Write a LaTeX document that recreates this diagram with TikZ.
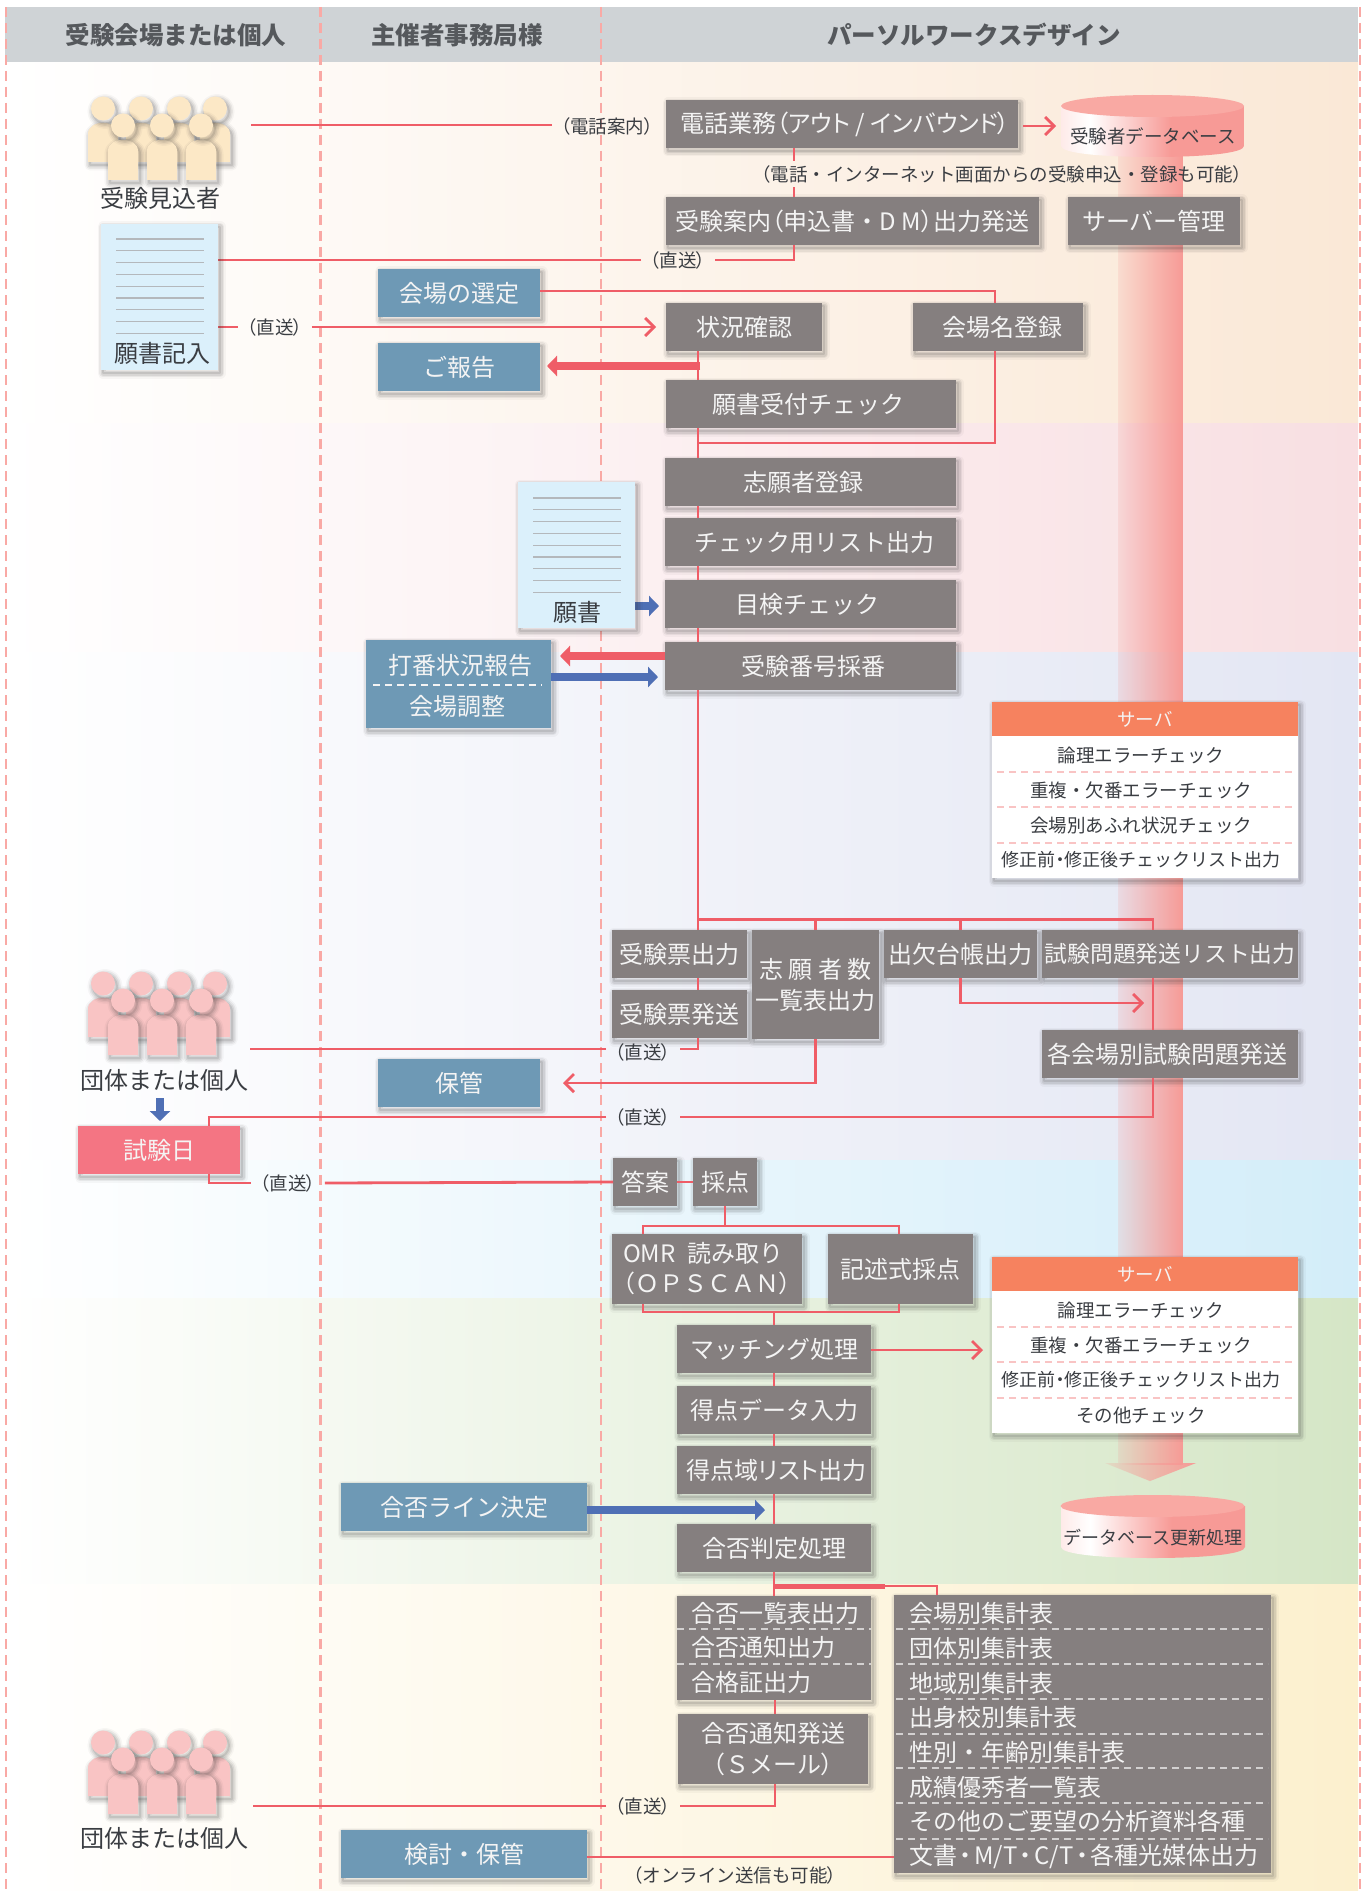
\documentclass[tikz,border=0pt]{standalone}
\usepackage{fontspec}
\setmainfont{Noto Sans CJK JP}
\newfontfamily\pfont[RawFeature={+palt}]{Noto Sans CJK JP}
\newcommand{\lpr}{{\pfont （}}
\newcommand{\rpr}{{\pfont ）}}
\usetikzlibrary{arrows.meta,fadings,calc}
\definecolor{hdr}{HTML}{CFD3D6}
\definecolor{hdrtx}{HTML}{55585C}
\definecolor{bandA}{HTML}{FAE8D6}
\definecolor{bandB}{HTML}{F8DFE2}
\definecolor{bandC}{HTML}{E3E6F3}
\definecolor{bandD}{HTML}{D3EDF9}
\definecolor{bandE}{HTML}{D5E6C6}
\definecolor{bandF}{HTML}{FCF0CE}
\definecolor{lane}{HTML}{F9A9A5}
\definecolor{wirec}{HTML}{EF5D67}
\definecolor{bluearr}{HTML}{4F6FB5}
\definecolor{gray}{HTML}{857F7F}
\definecolor{bluebox}{HTML}{6E99B5}
\definecolor{redbox}{HTML}{F47583}
\definecolor{srvhd}{HTML}{F6825F}
\definecolor{boxtx}{HTML}{F4F4F4}
\definecolor{ink}{HTML}{3A3D42}
\definecolor{paper}{HTML}{DBF0FB}
\definecolor{ruleg}{HTML}{B4B8BC}
\definecolor{pill}{HTML}{F79A96}
\definecolor{dbA}{HTML}{F9A9A3}
\definecolor{dbB}{HTML}{F79A96}
\definecolor{peopleY}{HTML}{FCE8C6}
\definecolor{peopleR}{HTML}{F9C4C4}
\definecolor{shadowc}{HTML}{333333}
\pgfdeclarehorizontalshading{dbbody}{100bp}{color(0bp)=(dbA); color(33bp)=(white); color(55bp)=(dbB); color(100bp)=(dbB)}
\tikzset{
  box/.style n args={4}{at={({(#1+#3)/2},{(#2+#4)/2})},minimum width={(#3-#1)*1pt},minimum height={(#4-#2)*1pt}},
  softshadow/.style={
    preaction={draw=shadowc,draw opacity=.04,line width=11pt,line join=round,transform canvas={shift={(2pt,-3pt)}}},
    preaction={draw=shadowc,draw opacity=.07,line width=8pt,line join=round,transform canvas={shift={(2pt,-3pt)}}},
    preaction={draw=shadowc,draw opacity=.09,line width=5pt,line join=round,transform canvas={shift={(2pt,-3pt)}}},
    preaction={draw=shadowc,draw opacity=.12,line width=2pt,line join=round,transform canvas={shift={(2pt,-3pt)}}}},
  proc/.style={fill=gray,text=boxtx,inner sep=0pt,outer sep=0pt,softshadow,font=\fontsize{24}{31}\selectfont,align=center},
  blue/.style={fill=bluebox,text=boxtx,inner sep=0pt,outer sep=0pt,softshadow,font=\fontsize{24}{29}\selectfont,align=center},
  sheet/.style={fill=paper,inner sep=0pt,outer sep=0pt,softshadow},
  rowtx/.style={text=boxtx,inner sep=0pt,anchor=west,font=\fontsize{24}{29}\selectfont},
  ink24/.style={text=ink,inner sep=0pt,font=\fontsize{24}{29}\selectfont},
  srvtx/.style={text=ink,inner sep=0pt,font=\fontsize{18.5}{22}\selectfont},
  note/.style={text=ink,inner xsep=9pt,inner ysep=0pt,minimum height=26pt,font=\fontsize{18.5}{22}\selectfont},
  headtx/.style={text=hdrtx,inner sep=0pt,font=\fontsize{24.5}{29}\selectfont\bfseries},
  wire/.style={draw=wirec,line width=2.8pt},
  openarrow/.style={wire,-{Straight Barb[length=9pt,width=18pt,line width=2.8pt]}},
  redthick/.style={draw=wirec,line width=8pt,-{Triangle[length=10pt,width=20pt]}},
  bluethick/.style={draw=bluearr,line width=8pt,-{Triangle[length=10pt,width=20pt]}},
  laneline/.style={draw=lane,line width=2.4pt,dash pattern=on 10pt off 6pt},
  divider/.style={draw=#1,line width=2pt,dash pattern=on 7pt off 5pt},
  textrule/.style={draw=ruleg,line width=1.3pt},
  pics/crowd/.style={code={
    \foreach \cx in {15,53,91,127}{
      \fill[#1,softshadow] ({\cx-15},65) -- ({\cx-15},37) .. controls ({\cx-15},22) and ({\cx+15},22) .. ({\cx+15},37) -- ({\cx+15},65) -- cycle;}
    \foreach \cx in {15,53,91,127}{
      \fill[#1,softshadow] (\cx,11.5) ellipse [x radius=12,y radius=12];}
    \foreach \cx in {35,74,113}{
      \fill[#1,softshadow] ({\cx-15},83) -- ({\cx-15},54) .. controls ({\cx-15},39) and ({\cx+15},39) .. ({\cx+15},54) -- ({\cx+15},83) -- cycle;
      \fill[#1,softshadow] (\cx,28.5) ellipse [x radius=12,y radius=12];}
  }}
}
\begin{document}
\begin{tikzpicture}[x=1pt,y=-1pt]
\useasboundingbox (0,0) rectangle (1367,1894);
% background bands
\shade[left color=white,right color=bandA] (5,62) rectangle (1358,423);
\shade[left color=white,right color=bandB] (5,423) rectangle (1358,652);
\shade[left color=white,right color=bandC] (5,652) rectangle (1358,1160);
\shade[left color=white,right color=bandD] (5,1160) rectangle (1358,1298);
\shade[left color=white,right color=bandE] (5,1298) rectangle (1358,1584);
\shade[left color=white,right color=bandF] (5,1584) rectangle (1358,1890);
\fill[hdr] (5,7) rectangle (1358,62);
\foreach \lx in {6,320.5,601,1360}{\draw[laneline] (\lx,7) -- (\lx,1890);}
\node[headtx] (h1) at (176,35) {受験会場または個人};
\node[headtx] (h2) at (457,35) {主催者事務局様};
\node[headtx] (h3) at (974,35) {パーソルワークスデザイン};
% server pillar
\fill[pill,opacity=.18] (1118,150) rectangle (1183,1463);
\fill[pill,path fading=west] (1118,150) rectangle (1183,1463);
\fill[pill,opacity=.18] (1105,1463) -- (1196,1463) -- (1150,1481) -- cycle;
\fill[pill,path fading=west] (1105,1463) -- (1196,1463) -- (1150,1481) -- cycle;
% guide coordinates
\coordinate (sp) at (698,0);
\coordinate (vg) at (794,0);
\coordinate (vr) at (995,0);
\coordinate (vq) at (1153,0);
\coordinate (vx) at (209,0);
\coordinate (docL) at (218,0);
\coordinate (fork) at (698,919.5);
\coordinate (forkR) at (1153,919.5);
\coordinate (bk1) at (643,1226);
\coordinate (bk2) at (899,1226);
\coordinate (bk3) at (643,1312);
\coordinate (bk4) at (899,1312);
\coordinate (c1) at (251,125);
\coordinate (c3) at (250,1049);
\coordinate (c6) at (253,1806);
\coordinate (r3) at (698,1049);
\coordinate (r6) at (775,1806);
\coordinate (r4) at (1153,1117);
\coordinate (joinA) at (698,443);
\coordinate (telA) at (1023,126);
\coordinate (telB) at (1056,126);
\coordinate (rollTip) at (1144,1003);
\coordinate (matchTip) at (983,1350);
\coordinate (repA) at (700,366);
\coordinate (repB) at (547,366);
\coordinate (numA) at (665,656);
\coordinate (numB) at (560,656);
\coordinate (adjA) at (551,677);
\coordinate (adjB) at (658,677);
\coordinate (docA) at (635,606);
\coordinate (docB) at (659,606);
\coordinate (downA) at (160,1098);
\coordinate (downB) at (160,1121);
\coordinate (decA) at (587,1510);
\coordinate (decB) at (765,1510);
\coordinate (revA) at (587,1857);
\coordinate (yj) at (775,1586);
\coordinate (yk) at (885,1586);
\coordinate (yl) at (937,1586);
\coordinate (vex) at (209,1117);
\coordinate (ans) at (209,1183);
\coordinate (dl2) at (218,327);
% text nodes that wires stop at
\node[note] (lbPhone) at (607,126) {\lpr 電話案内\rpr};
\node[note] (lbNet) at (1002,174) {\lpr 電話・インターネット画面からの受験申込・登録も可能\rpr};
\node[note] (lbD1) at (678,260) {\lpr 直送\rpr};
\node[note] (lbD2) at (275,327) {\lpr 直送\rpr};
\node[note] (lbD3) at (643,1052) {\lpr 直送\rpr};
\node[note] (lbD4) at (643,1117) {\lpr 直送\rpr};
\node[note] (lbD5) at (288,1183) {\lpr 直送\rpr};
\node[note] (lbD6) at (643,1806) {\lpr 直送\rpr};
\node[note] (lbOn) at (735,1875) {\lpr オンライン送信も可能\rpr};
% boxes
\node[proc,box={666}{100}{1018}{148}] (tel) {\hspace*{6pt}\pfont 電話業務（アウト / インバウンド）};
\node[proc,box={666}{197}{1039}{245}] (guide) {受験案内\lpr 申込書・D M\rpr 出力発送};
\node[proc,box={1068}{197}{1240}{245}] (srvadm) {サーバー管理};
\node[blue,box={378}{269}{540}{317}] (venue) {会場の選定};
\node[proc,box={666}{303}{822}{351}] (stat) {状況確認};
\node[proc,box={913}{303}{1083}{351}] (reg) {\hspace*{8pt}会場名登録};
\node[blue,box={378}{343}{540}{391}] (report) {ご報告};
\node[proc,box={666}{380}{956}{428}] (check) {\hspace*{-6pt}願書受付チェック};
\node[proc,box={665}{458}{956}{506}] (apply) {\hspace*{-14pt}志願者登録};
\node[proc,box={665}{518}{956}{566}] (list) {\hspace*{8pt}チェック用リスト出力};
\node[proc,box={665}{580}{956}{628}] (eye) {\hspace*{-7pt}目検チェック};
\node[proc,box={665}{642}{956}{690}] (numb) {\hspace*{5pt}受験番号採番};
\node[blue,box={366}{640}{551}{728}] (adjust) {};
\node[text=boxtx,font=\fontsize{24}{29}\selectfont,inner sep=0pt] (adjT1) at (460,665) {打番状況報告};
\node[text=boxtx,font=\fontsize{24}{29}\selectfont,inner sep=0pt] (adjT2) at (457,706) {会場調整};
\draw[divider=boxtx] (373,685) -- (542,685);
\node[proc,box={612}{930}{747}{978}] (ticket) {受験票出力};
\node[proc,box={612}{990}{747}{1038}] (send) {受験票発送};
\node[proc,box={752}{930}{879}{1039}] (appl) {志 願 者 数\\一覧表出力};
\node[proc,box={884}{930}{1037}{978}] (roll) {出欠台帳出力};
\node[proc,font=\fontsize{22.8}{29}\selectfont,box={1042}{930}{1298}{978}] (qlist) {試験問題発送リスト出力};
\node[proc,box={1042}{1030}{1298}{1078}] (sites) {\hspace*{-6pt}各会場別試験問題発送};
\node[blue,box={378}{1059}{540}{1107}] (keep) {保管};
\node[fill=redbox,text=boxtx,inner sep=0pt,outer sep=0pt,softshadow,font=\fontsize{24}{29}\selectfont,box={78}{1126}{240}{1174}] (exam) {試験日};
\node[proc,box={613}{1158}{677}{1206}] (answer) {答案};
\node[proc,box={693}{1158}{757}{1206}] (score) {採点};
\node[proc,align=left,font=\fontsize{24}{30}\selectfont,box={612}{1234}{802}{1304}] (omr) {OMR\hspace{12pt}読み取り\\\lpr ＯＰＳＣＡＮ\rpr};
\node[proc,box={828}{1234}{973}{1304}] (essay) {記述式採点};
\node[proc,box={677}{1325}{871}{1373}] (match) {マッチング処理};
\node[proc,box={677}{1386}{871}{1434}] (input) {得点データ入力};
\node[proc,box={677}{1446}{871}{1494}] (range) {\hspace*{5pt}\pfont 得点域リスト出力};
\node[blue,box={341}{1483}{587}{1531}] (decide) {合否ライン決定};
\node[proc,box={677}{1524}{871}{1572}] (judge) {合否判定処理};
\node[proc,box={677}{1596}{871}{1700}] (res) {};
\node[rowtx] (res1) at (691,1613) {合否一覧表出力};
\node[rowtx] (res2) at (691,1647) {合否通知出力};
\node[rowtx] (res3) at (691,1682) {合格証出力};
\draw[divider=boxtx!70!gray] (677,1629) -- (871,1629);
\draw[divider=boxtx!70!gray] (677,1664) -- (871,1664);
\node[proc,box={678}{1714}{868}{1784}] (send2) {合否通知発送\\\lpr Ｓメール\rpr};
\node[proc,box={894}{1595}{1271}{1873}] (totals) {};
\node[rowtx] (t1) at (909,1613) {会場別集計表};
\node[rowtx] (t2) at (909,1648) {団体別集計表};
\node[rowtx] (t3) at (909,1683) {地域別集計表};
\node[rowtx] (t4) at (909,1717) {出身校別集計表};
\node[rowtx] (t5) at (909,1752) {性別・年齢別集計表};
\node[rowtx] (t6) at (909,1787) {成績優秀者一覧表};
\node[rowtx] (t7) at (909,1821) {その他のご要望の分析資料各種};
\node[rowtx] (t8) at (909,1856) {文書\hspace{2.5pt}{\pfont ・}\hspace{2.5pt}M/T\hspace{2.5pt}{\pfont ・}\hspace{2.5pt}C/T\hspace{2.5pt}{\pfont ・}\hspace{2.5pt}各種光媒体出力};
\foreach \dy in {1629,1664,1699,1734,1768,1803,1839}{\draw[divider=boxtx!70!gray] (896,\dy) -- (1268,\dy);}
\node[blue,box={341}{1830}{587}{1878}] (review) {検討・保管};
% connectors
\draw[wire] (c1) -- (c1 -| lbPhone.west);
\draw[openarrow] (telA) -- (telB);
\draw[wire] (tel.south -| vg) -- (lbNet.north -| vg);
\draw[wire] (lbNet.south -| vg) -- (guide.north -| vg);
\draw[wire] (guide.south -| vg) |- (lbD1.east);
\draw[wire] (lbD1.west) -- (lbD1.west -| docL);
\draw[wire] ([yshift=2pt]venue.east) -| (reg.north -| vr);
\draw[wire] (reg.south -| vr) |- (joinA);
\draw[wire] (dl2) -- (lbD2.west);
\draw[openarrow] (lbD2.east) -- ([xshift=-10pt]stat.west);
\draw[wire] (stat.south -| sp) -- (check.north -| sp);
\draw[wire] (check.south -| sp) -- (apply.north -| sp);
\draw[wire] (apply.south -| sp) -- (list.north -| sp);
\draw[wire] (list.south -| sp) -- (eye.north -| sp);
\draw[wire] (eye.south -| sp) -- (numb.north -| sp);
\draw[wire] (numb.south -| sp) -- (ticket.north -| sp);
\draw[wire] (fork) -- (forkR) -- (qlist.north -| vq);
\draw[wire] (appl.north) -- (appl.north |- fork);
\draw[wire] (roll.north) -- (roll.north |- fork);
\draw[wire] (ticket.south -| sp) -- (send.north -| sp);
\draw[wire] (send.south -| sp) -- (r3) -- (r3 -| lbD3.east);
\draw[wire] (r3 -| lbD3.west) -- (c3);
\draw[openarrow] (appl.south) |- ([xshift=23pt]keep.east);
\draw[wire] (qlist.south -| vq) -- (sites.north -| vq);
\draw[openarrow] (roll.south) |- (rollTip);
\draw[wire] (sites.south -| vq) -- (r4) -- (lbD4.east);
\draw[wire] (lbD4.west) -- (vex) -- (exam.north -| vx);
\draw[wire] (exam.south -| vx) -- (ans) -- (lbD5.west);
\draw[wire] (lbD5.east) -- (answer.west);
\draw[wire] (answer.east) -- (score.west);
\draw[wire] (score.south) -- (score.south |- bk1);
\draw[wire] (omr.north -| bk1) -- (bk1) -- (bk2) -- (essay.north -| bk2);
\draw[wire] (omr.south -| bk3) -- (bk3) -- (bk4) -- (essay.south -| bk4);
\draw[wire] (match.north) -- (match.north |- bk3);
\draw[wire] (match.south) -- (input.north);
\draw[wire] (input.south) -- (range.north);
\draw[wire] (range.south) -- (judge.north);
\draw[wire] (judge.south) -- (res.north);
\draw[openarrow] (match.east |- matchTip) -- (matchTip);
\draw[draw=wirec,line width=5pt] (yj) -- (yk);
\draw[wire] (yk) -- (yl) -- (totals.north -| yl);
\draw[wire] (res.south -| yj) -- (send2.north -| yj);
\draw[wire] (send2.south -| yj) -- (r6) -- (lbD6.east);
\draw[wire] (lbD6.west) -- (c6);
\draw[wire] (revA) -- (revA -| totals.west);
\draw[redthick] (repA) -- (repB);
\draw[redthick] (numA) -- (numB);
\draw[bluethick] (adjA) -- (adjB);
\draw[bluethick] (docA) -- (docB);
\draw[bluethick] (downA) -- (downB);
\draw[bluethick] (decA) -- (decB);
% people
\node[inner sep=0pt,box={88}{97}{232}{180}] (crowd1) {};
\pic at (88,97) {crowd=peopleY};
\node[ink24] (who1) at (160,198) {受験見込者};
\node[inner sep=0pt,box={88}{972}{232}{1056}] (crowd2) {};
\pic at (88,972) {crowd=peopleR};
\node[ink24] (who2) at (164,1080) {団体または個人};
\node[inner sep=0pt,box={88}{1731}{232}{1814}] (crowd3) {};
\pic at (88,1731) {crowd=peopleR};
\node[ink24] (who3) at (164,1838) {団体または個人};
% documents
\node[sheet,box={101}{224}{218}{370}] (doc1) {};
\foreach \i in {0,...,8}{\draw[textrule] (116,{239+\i*11.8}) -- (204,{239+\i*11.8});}
\node[ink24] (doc1T) at (162,353) {願書記入};
\node[sheet,box={518}{482}{635}{628}] (doc2) {};
\foreach \i in {0,...,8}{\draw[textrule] (533,{498+\i*11.8}) -- (621,{498+\i*11.8});}
\node[ink24] (doc2T) at (577,612) {願書};
% databases
\shade[shading=dbbody] (1061,106) -- (1061,146) .. controls (1061,153) and (1100,157) .. (1152.5,157) .. controls (1205,157) and (1244,153) .. (1244,146) -- (1244,106) -- cycle;
\fill[dbA] (1152.5,106) ellipse [x radius=91.5,y radius=11];
\node[srvtx] (db1) at (1153,136) {受験者データベース};
\shade[shading=dbbody] (1061,1506) -- (1061,1547) .. controls (1061,1554) and (1100,1558) .. (1152.5,1558) .. controls (1205,1558) and (1245,1554) .. (1245,1547) -- (1245,1506) -- cycle;
\fill[dbA] (1152.5,1506) ellipse [x radius=92,y radius=11];
\node[srvtx,font=\fontsize{18}{22}\selectfont] (db2) at (1153,1538) {データベース更新処理};
% servers
\node[fill=white,inner sep=0pt,outer sep=0pt,softshadow,box={992}{702}{1298}{878}] (srv1) {};
\node[fill=srvhd,text=boxtx,inner sep=0pt,font=\fontsize{18.5}{22}\selectfont,box={992}{702}{1298}{736}] (srv1H) {サーバ};
\node[srvtx] (s1a) at (1141,755) {論理エラーチェック};
\node[srvtx] (s1b) at (1141,790) {重複・欠番エラーチェック};
\node[srvtx] (s1c) at (1141,825) {会場別あふれ状況チェック};
\node[srvtx,font=\fontsize{18}{22}\selectfont] (s1d) at (1141,860) {修正前{\pfont ・}修正後チェックリスト出力};
\foreach \dy in {772,807,842.5}{\draw[divider=peopleR] (997,\dy) -- (1295,\dy);}
\node[fill=white,inner sep=0pt,outer sep=0pt,softshadow,box={992}{1257}{1298}{1433}] (srv2) {};
\node[fill=srvhd,text=boxtx,inner sep=0pt,font=\fontsize{18.5}{22}\selectfont,box={992}{1257}{1298}{1291}] (srv2H) {サーバ};
\node[srvtx] (s2a) at (1141,1310) {論理エラーチェック};
\node[srvtx] (s2b) at (1141,1345) {重複・欠番エラーチェック};
\node[srvtx,font=\fontsize{18}{22}\selectfont] (s2c) at (1141,1380) {修正前{\pfont ・}修正後チェックリスト出力};
\node[srvtx] (s2d) at (1141,1415) {その他チェック};
\foreach \dy in {1327,1362,1397.5}{\draw[divider=peopleR] (997,\dy) -- (1295,\dy);}
\end{tikzpicture}
\end{document}
